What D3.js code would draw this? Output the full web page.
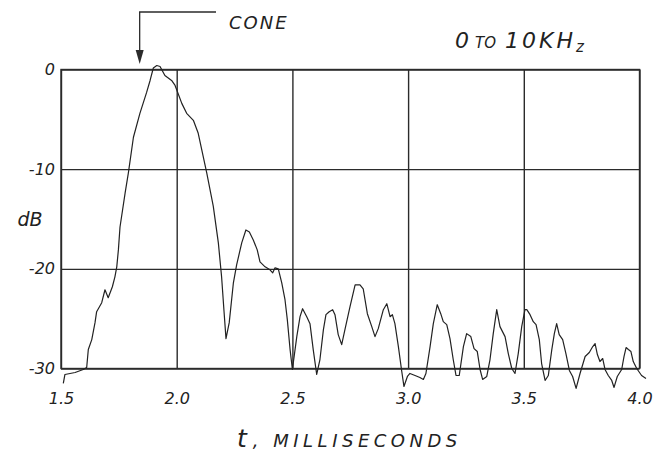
<!DOCTYPE html>
<html>
<head>
<meta charset="utf-8">
<script src="https://cdn.jsdelivr.net/npm/d3@7/dist/d3.min.js"></script>
<style>
  html, body { margin: 0; padding: 0; background: #ffffff; }
  svg text { font-family: "DejaVu Sans", "Liberation Sans", sans-serif; font-style: italic; fill: #222; }
</style>
</head>
<body>
<svg id="chart" width="662" height="457"></svg>
<script>
// Response envelope, 0 to 10 kHz band, level in dB vs. time in ms
const times = [
  1.510, 1.517, 1.561, 1.596, 1.611, 1.618, 1.633, 1.647, 1.654, 1.676,
  1.690, 1.704, 1.722, 1.733, 1.741, 1.748, 1.755, 1.777, 1.791, 1.813,
  1.841, 1.870, 1.885, 1.899, 1.914, 1.928, 1.949, 1.978, 1.993, 2.022,
  2.043, 2.072, 2.093, 2.130, 2.158, 2.180, 2.194, 2.204, 2.213, 2.227,
  2.245, 2.259, 2.281, 2.299, 2.314, 2.331, 2.348, 2.360, 2.382, 2.403,
  2.415, 2.425, 2.439, 2.454, 2.468, 2.478, 2.490, 2.500, 2.519, 2.533,
  2.544, 2.562, 2.576, 2.590, 2.605, 2.619, 2.634, 2.645, 2.659, 2.674,
  2.684, 2.698, 2.713, 2.727, 2.749, 2.771, 2.792, 2.806, 2.824, 2.843,
  2.857, 2.871, 2.893, 2.908, 2.922, 2.932, 2.943, 2.958, 2.972, 2.982,
  2.997, 3.008, 3.030, 3.051, 3.066, 3.077, 3.095, 3.109, 3.126, 3.141,
  3.152, 3.167, 3.181, 3.195, 3.207, 3.221, 3.239, 3.253, 3.271, 3.285,
  3.299, 3.311, 3.322, 3.340, 3.354, 3.368, 3.383, 3.397, 3.419, 3.433,
  3.448, 3.462, 3.476, 3.491, 3.505, 3.513, 3.527, 3.541, 3.553, 3.567,
  3.577, 3.592, 3.606, 3.621, 3.632, 3.642, 3.653, 3.668, 3.682, 3.697,
  3.711, 3.726, 3.743, 3.765, 3.783, 3.798, 3.808, 3.818, 3.829, 3.841,
  3.851, 3.865, 3.880, 3.890, 3.904, 3.923, 3.933, 3.942, 3.952, 3.963,
  3.973, 3.988, 4.009, 4.028
];
const levels = [
  -31.5, -30.6, -30.4, -30.1, -29.9, -28.1, -27.1, -25.4, -24.3, -23.4,
  -22.1, -22.9, -21.8, -20.8, -19.8, -18.1, -15.8, -12.4, -10.4, -6.8,
  -4.4, -2.3, -1.1, 0.15, 0.4, 0.3, -0.6, -1.1, -1.6, -3.4,
  -4.4, -5.1, -6.4, -10.4, -13.7, -17.4, -20.8, -24.1, -27.0, -25.4,
  -21.4, -19.6, -17.4, -16.1, -16.3, -17.1, -18.1, -19.3, -19.8, -20.1,
  -20.4, -19.9, -20.0, -21.4, -23.1, -25.1, -28.1, -30.1, -26.8, -24.8,
  -24.0, -24.8, -25.5, -28.1, -30.6, -29.1, -26.1, -24.6, -24.3, -24.1,
  -24.6, -26.6, -27.6, -26.1, -23.8, -21.6, -21.6, -22.0, -24.5, -25.8,
  -26.8, -26.0, -24.1, -23.5, -24.8, -24.6, -25.5, -27.8, -30.2, -31.8,
  -30.8, -30.5, -30.7, -30.9, -31.1, -30.5, -27.8, -25.5, -23.6, -24.5,
  -25.3, -25.6, -27.0, -29.1, -30.7, -30.7, -27.8, -26.5, -26.8, -28.0,
  -28.3, -30.1, -31.1, -30.8, -29.1, -26.5, -24.1, -25.8, -26.8, -28.5,
  -30.0, -30.5, -28.5, -25.8, -24.1, -24.1, -24.6, -25.3, -25.6, -27.1,
  -29.5, -31.2, -30.7, -28.1, -26.5, -25.5, -26.6, -27.1, -28.5, -30.2,
  -30.8, -32.0, -30.5, -28.8, -28.4, -27.8, -27.5, -28.6, -29.3, -29.0,
  -30.1, -30.7, -31.2, -31.9, -30.8, -30.1, -28.8, -27.9, -28.1, -28.3,
  -29.3, -30.0, -30.7, -31.0
];

const xTicks = [1.5, 2.0, 2.5, 3.0, 3.5, 4.0];
const xTickLabels = ["1.5", "2.0", "2.5", "3.0", "3.5", "4.0"];
const yTicks = [0, -10, -20, -30];
const yTickLabels = ["0", "-10", "-20", "-30"];
const coneTime = 1.84;

const svg = d3.select("#chart");
const plotLeft = 61, plotRight = 639.5, plotTop = 69.5, plotBottom = 368.5;

const x = d3.scaleLinear().domain([1.5, 4.0]).range([plotLeft, plotRight]);
const y = d3.scaleLinear().domain([0, -30]).range([plotTop, plotBottom]);

const ink = "#2b2b2b";

// vertical grid + x tick labels
const gx = svg.append("g")
  .attr("transform", `translate(0,${plotBottom})`)
  .call(d3.axisBottom(x).tickValues(xTicks)
    .tickFormat((d, i) => xTickLabels[i])
    .tickSizeInner(-(plotBottom - plotTop)).tickSizeOuter(0).tickPadding(24));
gx.select(".domain").remove();
gx.selectAll("line").attr("stroke", ink).attr("stroke-width", 1.4);
gx.selectAll("text").style("font-size", "16px").attr("fill", "#222");

// horizontal grid + y tick labels
const gy = svg.append("g")
  .attr("transform", `translate(${plotLeft},0)`)
  .call(d3.axisLeft(y).tickValues(yTicks)
    .tickFormat((d, i) => yTickLabels[i])
    .tickSizeInner(-(plotRight - plotLeft)).tickSizeOuter(0).tickPadding(6));
gy.select(".domain").remove();
gy.selectAll("line").attr("stroke", ink).attr("stroke-width", 1.4);
gy.selectAll("text").style("font-size", "16px").attr("fill", "#222");

// plot frame
svg.append("rect")
  .attr("x", plotLeft).attr("y", plotTop)
  .attr("width", plotRight - plotLeft).attr("height", plotBottom - plotTop)
  .attr("fill", "none").attr("stroke", ink).attr("stroke-width", 1.4);

// level curve
const line = d3.line().x((d, i) => x(times[i])).y(d => y(d)).curve(d3.curveLinear);
svg.append("path")
  .datum(levels)
  .attr("d", line)
  .attr("fill", "none")
  .attr("stroke", "#222")
  .attr("stroke-width", 1.2)
  .attr("stroke-linejoin", "round");

// y axis unit
svg.append("text").attr("x", 30).attr("y", 226)
  .attr("text-anchor", "middle").style("font-size", "19px").text("dB");

// x axis title
const title = svg.append("text").attr("x", 237).attr("y", 447);
title.append("tspan").style("font-size", "25px").text("t");
title.append("tspan").style("font-size", "18px").style("letter-spacing", "4.5px")
  .attr("dx", 6).text(", MILLISECONDS");

// band annotation
const band = svg.append("text").attr("x", 455).attr("y", 48).style("font-size", "22px");
band.append("tspan").text("0");
band.append("tspan").style("font-size", "15px").attr("dx", 6).text("TO");
band.append("tspan").style("letter-spacing", "3px").attr("dx", 9).text("10KH");
band.append("tspan").style("font-size", "15px").attr("dy", 4).text("z");

// cone marker
const cx = x(coneTime);
svg.append("path")
  .attr("d", `M${x(2.17)},12 H${cx} V52`)
  .attr("fill", "none").attr("stroke", ink).attr("stroke-width", 1.3);
svg.append("path")
  .attr("d", `M${cx - 4},50 L${cx + 4},50 L${cx},64 Z`)
  .attr("fill", ink);
svg.append("text").attr("x", 229).attr("y", 29).style("font-size", "18px")
  .style("letter-spacing", "2px").text("CONE");
</script>
</body>
</html>
